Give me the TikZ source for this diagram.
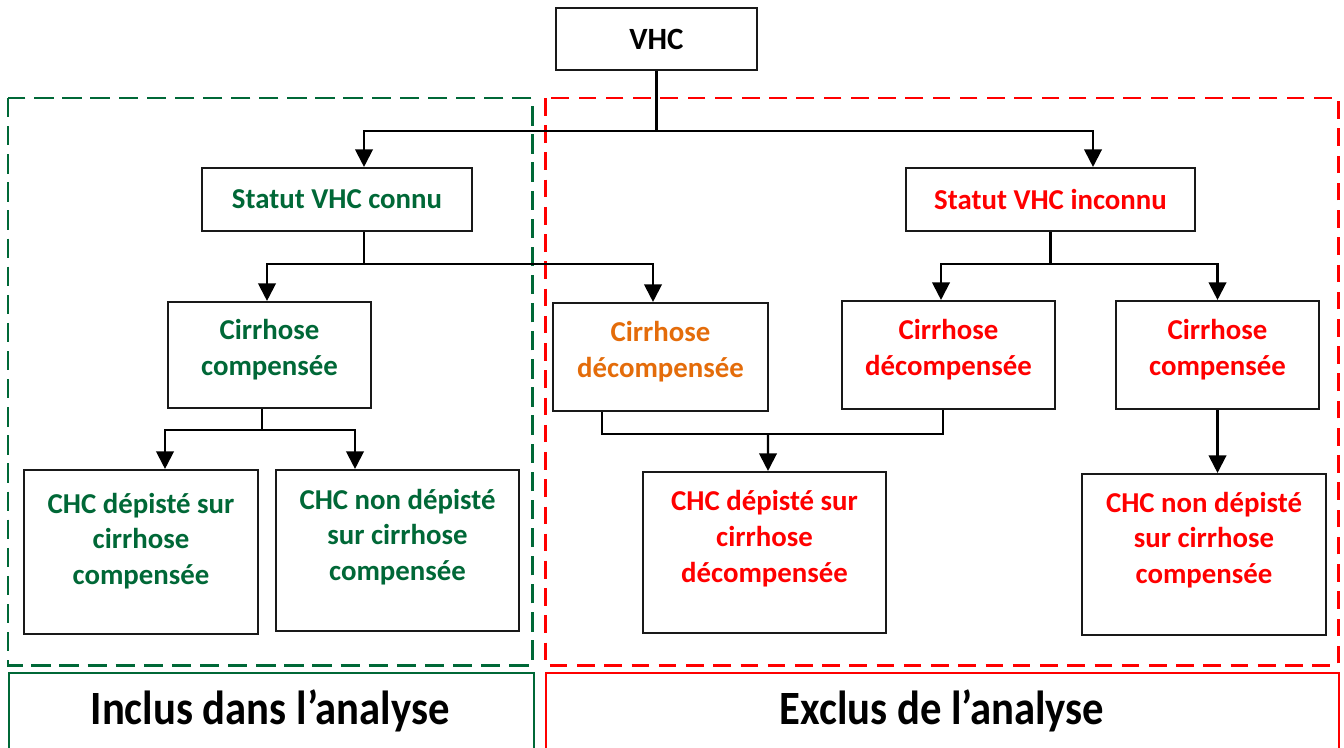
\documentclass[tikz,border=0pt]{standalone}
\usepackage{fontspec}
\setmainfont{Carlito}
\usetikzlibrary{arrows.meta,calc}
\definecolor{dgreen}{RGB}{0,104,55}
\definecolor{dred}{RGB}{255,0,0}
\definecolor{dorange}{RGB}{228,108,10}
\def\ux{0.02cm}
\tikzset{
  boxnode/.style={draw=black!90, line width=1.2pt, fill=white, rectangle, inner sep=0pt, align=center,
    font=\fontsize{16.4}{20.4}\selectfont\bfseries},
  txtnode/.style={inner sep=0pt, align=center, font=\fontsize{16.4}{20.4}\selectfont\bfseries},
  conn/.style={line width=1.2pt, black},
  arr/.style={conn, -{Triangle[width=10pt,length=10pt]}},
  gframe/.style={draw=dgreen, line width=1.7pt, dash pattern=on 11pt off 5pt},
  rframe/.style={draw=dred, line width=1.7pt, dash pattern=on 10pt off 5.5pt},
  bigtxt/.style={inner sep=0pt, font=\fontsize{24.3}{28}\selectfont\bfseries, yscale=1.12}
}
\begin{document}
\begin{tikzpicture}[x=0.02cm,y=-0.02cm]
\useasboundingbox (0,0) rectangle (1344,747);
% frames
\draw[gframe] (8,98) rectangle (532,665);
\draw[rframe] (545,98) rectangle (1338,665);
\node[draw=dgreen, line width=0.9pt, rectangle, minimum width=525*\ux, minimum height=100*\ux, anchor=north west, inner sep=0pt] (incl) at (8,672) {};
\node[draw=dred, line width=0.9pt, rectangle, minimum width=793*\ux, minimum height=100*\ux, anchor=north west, inner sep=0pt] (excl) at (545,672) {};
\node[bigtxt] (inclt) at (270,711) {Inclus dans l’analyse};
\node[bigtxt] (exclt) at (942,711) {Exclus de l’analyse};

% boxes
\node[boxnode, minimum width=201*\ux, minimum height=62*\ux, font=\fontsize{17.6}{21}\selectfont\bfseries] (vhc) at (656.5,39) {VHC};
\node[boxnode, minimum width=270*\ux, minimum height=63*\ux, text=dgreen] (connu) at (337,199.5) {Statut VHC connu};
\node[boxnode, minimum width=289*\ux, minimum height=63*\ux, text=dred] (inconnu) at (1050.5,199.5) {Statut VHC inconnu};

\node[boxnode, minimum width=203*\ux, minimum height=106*\ux] (gcomp) at (269.5,355) {};
\node[txtnode, text=dgreen] (gcompt) at (269.5,350) {Cirrhose\\compensée};
\node[boxnode, minimum width=215*\ux, minimum height=108*\ux] (odec) at (660.5,357) {};
\node[txtnode, text=dorange] (odect) at (660.5,352) {Cirrhose\\décompensée};
\node[boxnode, minimum width=213*\ux, minimum height=108*\ux] (rdec) at (948.5,355) {};
\node[txtnode, text=dred] (rdect) at (948.5,350) {Cirrhose\\décompensée};
\node[boxnode, minimum width=203*\ux, minimum height=108*\ux] (rcomp) at (1217.5,355) {};
\node[txtnode, text=dred] (rcompt) at (1217.5,350) {Cirrhose\\compensée};

\node[boxnode, minimum width=234*\ux, minimum height=164*\ux] (chca) at (141,552) {};
\node[txtnode, text=dgreen] (chcat) at (141,541) {CHC dépisté sur\\cirrhose\\compensée};
\node[boxnode, minimum width=243*\ux, minimum height=161*\ux] (chcb) at (397.5,550.5) {};
\node[txtnode, text=dgreen] (chcbt) at (397.5,537) {CHC non dépisté\\sur cirrhose\\compensée};
\node[boxnode, minimum width=243*\ux, minimum height=161*\ux] (chcc) at (764.5,552.5) {};
\node[txtnode, text=dred] (chcct) at (764.5,538.5) {CHC dépisté sur\\cirrhose\\décompensée};
\node[boxnode, minimum width=244*\ux, minimum height=161*\ux] (chcd) at (1204,554.5) {};
\node[txtnode, text=dred] (chcdt) at (1204,540) {CHC non dépisté\\sur cirrhose\\compensée};

% connectors
\coordinate (j1) at (656.5,131);
\draw[conn] (vhc.south) -- (j1);
\draw[arr] (j1) -| ($(connu.north)+(27,0)$);
\draw[arr] (j1) -| ($(inconnu.north)+(42.5,0)$);

\coordinate (j2) at (364,264);
\draw[conn] ($(connu.south)+(27,0)$) -- (j2);
\draw[arr] (j2) -| ($(gcomp.north)+(-2.5,0)$);
\draw[arr] (j2) -| ($(odec.north)+(-7.5,0)$);

\coordinate (j3) at (1050.5,264);
\draw[conn] (inconnu.south) -- (j3);
\draw[arr] (j3) -| ($(rdec.north)+(-7.5,0)$);
\draw[arr] (j3) -| (rcomp.north);

\coordinate (j4) at (262,430);
\draw[conn] ($(gcomp.south)+(-7.5,0)$) -- (j4);
\draw[arr] (j4) -| ($(chca.north)+(24,0)$);
\draw[arr] (j4) -| ($(chcb.north)+(-42.5,0)$);

\coordinate (j5) at (768,435);
\draw[conn] ($(odec.south)+(-58.5,0)$) |- ($(rdec.south)+(-5.5,0)+(0,24)$) -- ($(rdec.south)+(-5.5,0)$);
\draw[arr] (j5) -- ($(chcc.north)+(3.5,0)$);

\draw[arr] (rcomp.south) -- ($(chcd.north)+(13.5,0)$);
\end{tikzpicture}
\end{document}
